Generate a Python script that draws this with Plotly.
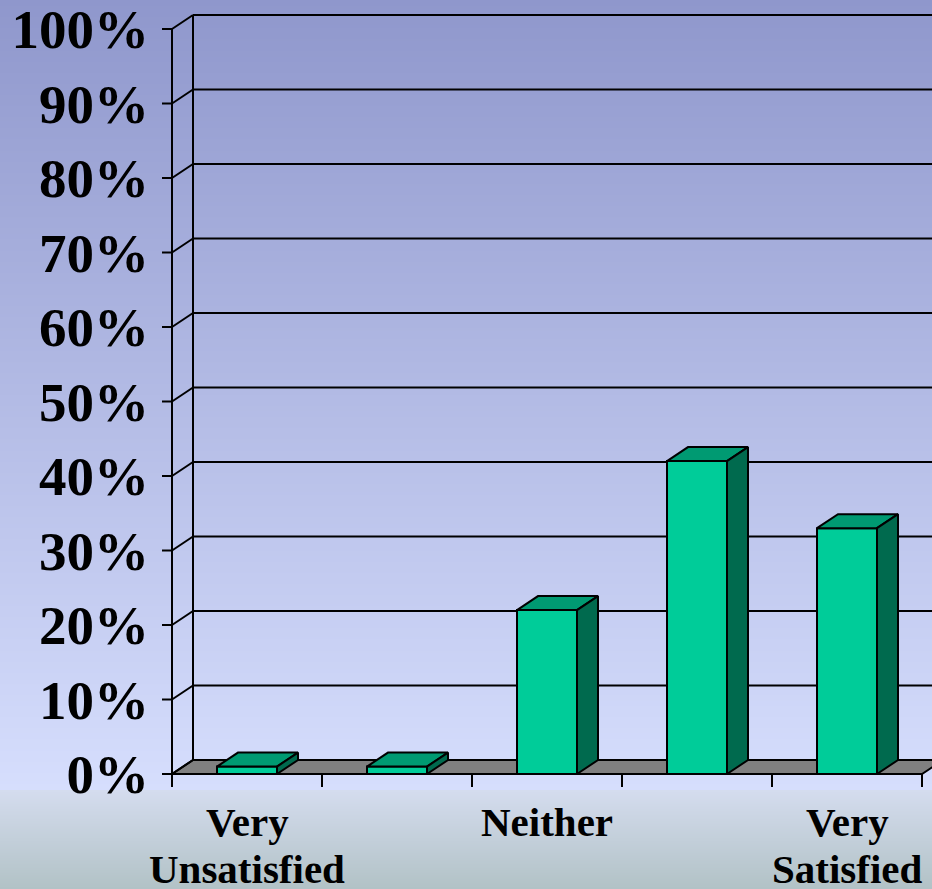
import base64, struct, zlib
import plotly.graph_objects as go

# ---- data ----
categories = ["Very Unsatisfied", "Unsatisfied", "Neither", "Satisfied", "Very Satisfied"]
x_label_lines = [["Very", "Unsatisfied"], [], ["Neither"], [], ["Very", "Satisfied"]]
values = [1, 1, 22, 42, 33]
y_ticks = [0, 10, 20, 30, 40, 50, 60, 70, 80, 90, 100]
y_tick_text = [f"{v}%" for v in y_ticks]

# ---- geometry / style ----
W, H = 932, 889
PX_X = 150.0          # pixels per category
PX_Y = 7.45           # pixels per percent
ML, MR, MT, MB = 150, 0, 8, 94
x0_range = -0.5 - 22 / PX_X
x1_range = x0_range + (W - ML - MR) / PX_X
y0_range = -(H - MB - 774) / PX_Y
y1_range = y0_range + (H - MT - MB) / PX_Y
DX = 21 / PX_X
DY = 14 / PX_Y
BAR_W = 0.4
TICK_X = 10 / PX_X
TICK_Y = 13 / PX_Y
FRONT = "#00CC99"
TOP = "#009A72"
SIDE = "#006A4E"
LW = 2

# ---- background gradient PNG ----
def lerp(a, b, t):
    return tuple(int(round(a[i] + (b[i] - a[i]) * t)) for i in range(3))

rows = []
for yy in range(H):
    if yy < 790:
        c = lerp((143, 151, 204), (214, 222, 253), yy / 789)
    else:
        c = lerp((212, 220, 238), (178, 194, 198), (yy - 790) / 98)
    rows.append(b"\x00" + bytes(c))
raw = b"".join(rows)

def chunk(tag, data):
    return struct.pack(">I", len(data)) + tag + data + struct.pack(">I", zlib.crc32(tag + data) & 0xffffffff)

png = b"\x89PNG\r\n\x1a\n" + chunk(b"IHDR", struct.pack(">IIBBBBB", 1, H, 8, 2, 0, 0, 0)) \
    + chunk(b"IDAT", zlib.compress(raw, 9)) + chunk(b"IEND", b"")
bg_uri = "data:image/png;base64," + base64.b64encode(png).decode()

pw, ph = W - ML - MR, H - MT - MB

fig = go.Figure()

# front faces of bars
xs = list(range(len(categories)))
fig.add_trace(go.Bar(x=xs, y=values, width=BAR_W, marker=dict(color=FRONT, line=dict(color="black", width=LW)),
                     hoverinfo="skip", showlegend=False))

# top and side faces
for c, v in zip(xs, values):
    l, r = c - BAR_W / 2, c + BAR_W / 2
    fig.add_trace(go.Scatter(x=[l, r, r + DX, l + DX, l], y=[v, v, v + DY, v + DY, v], fill="toself",
                             fillcolor=TOP, mode="lines", line=dict(color="black", width=LW),
                             hoverinfo="skip", showlegend=False))
    fig.add_trace(go.Scatter(x=[r, r, r + DX, r + DX, r], y=[0, v, v + DY, DY, 0], fill="toself",
                             fillcolor=SIDE, mode="lines", line=dict(color="black", width=LW),
                             hoverinfo="skip", showlegend=False))

shapes = []
n = len(categories)
left, right = -0.5, n - 0.5
# floor
shapes.append(dict(type="path", xref="x", yref="y", layer="below",
                   path=f"M {left},0 L {right},0 L {right + DX},{DY} L {left + DX},{DY} Z",
                   fillcolor="#808080", line=dict(color="black", width=LW)))
# gridlines, tick marks and diagonals
for v in y_ticks:
    shapes.append(dict(type="line", xref="x", yref="y", layer="below", x0=left - TICK_X, x1=left, y0=v, y1=v,
                       line=dict(color="black", width=LW)))
    shapes.append(dict(type="line", xref="x", yref="y", layer="below", x0=left, x1=left + DX, y0=v, y1=v + DY,
                       line=dict(color="black", width=LW)))
    if v > 0:
        shapes.append(dict(type="line", xref="x", yref="y", layer="below", x0=left + DX, x1=x1_range + 1,
                           y0=v + DY, y1=v + DY, line=dict(color="black", width=LW)))
# front axis line and back wall line
shapes.append(dict(type="line", xref="x", yref="y", layer="below", x0=left, x1=left, y0=-TICK_Y, y1=y_ticks[-1],
                   line=dict(color="black", width=LW)))
shapes.append(dict(type="line", xref="x", yref="y", layer="below", x0=left + DX, x1=left + DX, y0=DY,
                   y1=y_ticks[-1] + DY, line=dict(color="black", width=LW)))
# category boundary ticks
for k in range(n + 1):
    shapes.append(dict(type="line", xref="x", yref="y", layer="below", x0=left + k, x1=left + k, y0=0, y1=-TICK_Y,
                       line=dict(color="black", width=LW)))

font_fam = "Liberation Serif, Times New Roman, serif"

# category labels (one annotation per text line)
LINE_CENTERS_PX = [822, 869]
annotations = []
for c, lines in zip(xs, x_label_lines):
    for i, txt in enumerate(lines):
        annotations.append(dict(x=c, xref="x", y=(H - MB - LINE_CENTERS_PX[i]) / ph, yref="paper",
                                text=txt, showarrow=False, xanchor="center", yanchor="middle",
                                font=dict(family=font_fam, size=41, color="black", weight="bold")))

fig.update_layout(
    width=W, height=H,
    margin=dict(l=ML, r=MR, t=MT, b=MB, pad=0),
    paper_bgcolor="#B8C0E8", plot_bgcolor="rgba(0,0,0,0)",
    shapes=shapes,
    annotations=annotations,
    images=[dict(source=bg_uri, xref="paper", yref="paper", x=-ML / pw, y=1 + MT / ph,
                 sizex=W / pw, sizey=H / ph, xanchor="left", yanchor="top", sizing="stretch", layer="below")],
    bargap=0,
    showlegend=False,
    xaxis=dict(range=[x0_range, x1_range], showgrid=False, zeroline=False, showline=False, ticks="",
               showticklabels=False, automargin=False, fixedrange=True),
    yaxis=dict(range=[y0_range, y1_range], showgrid=False, zeroline=False, showline=False, ticks="",
               tickmode="array", tickvals=y_ticks, ticktext=y_tick_text, automargin=False,
               ticklabeloverflow="allow", fixedrange=True,
               tickfont=dict(family=font_fam, size=55, color="black", weight="bold"), ticklabelstandoff=0),
)

fig.write_html("out.html", config={"displayModeBar": False, "staticPlot": True},
               post_script="document.body.style.margin='0';document.body.style.overflow='hidden';")
